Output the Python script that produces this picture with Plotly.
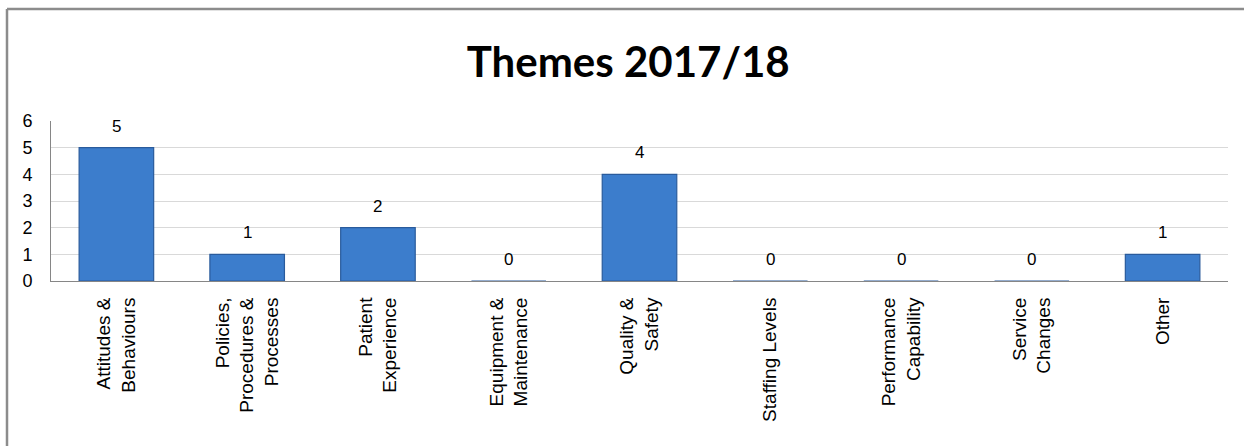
import plotly.graph_objects as go

categories = [
    "Attitudes &<br>Behaviours",
    "Policies,<br>Procedures &<br>Processes",
    "Patient<br>Experience",
    "Equipment &<br>Maintenance",
    "Quality &<br>Safety",
    "Staffing Levels",
    "Performance<br>Capability",
    "Service<br>Changes",
    "Other",
]
values = [5, 1, 2, 0, 4, 0, 0, 0, 1]
y_ticks = [0, 1, 2, 3, 4, 5, 6]

x_idx = list(range(len(categories)))

fig = go.Figure()
fig.add_trace(go.Bar(
    x=x_idx,
    y=values,
    width=0.57,
    marker=dict(color="#3c7dcc", line=dict(color="#2a5b9c", width=1.2)),
    showlegend=False,
    hoverinfo="skip",
))

for xi, v in zip(x_idx, values):
    fig.add_annotation(
        x=xi, y=v, xref="x", yref="y",
        text=str(v), showarrow=False,
        yanchor="bottom", yshift=10,
        font=dict(family="Liberation Sans, Arial", size=17, color="#000000"),
    )

fig.update_layout(
    width=1244,
    height=446,
    margin=dict(l=51, r=16, t=121, b=165),
    paper_bgcolor="white",
    plot_bgcolor="white",
    title=dict(
        text="<b>Themes 2017/18</b>",
        font=dict(family="Lato, Open Sans", size=42, color="#000000"),
        x=0.505, xref="container", xanchor="center",
        y=1 - 62 / 446, yref="container", yanchor="middle",
    ),
    xaxis=dict(
        range=[-0.5, len(categories) - 0.5],
        tickmode="array",
        tickvals=x_idx,
        ticktext=categories,
        tickangle=-90,
        tickfont=dict(family="Liberation Sans, Arial", size=19, color="#000000"),
        showline=True, linecolor="#868686", linewidth=1,
        showgrid=False, zeroline=False,
        ticks="", ticklabelstandoff=8,
    ),
    yaxis=dict(
        range=[0, 6],
        tickmode="array",
        tickvals=y_ticks,
        ticktext=[str(t) for t in y_ticks],
        tickfont=dict(family="Liberation Sans, Arial", size=18, color="#000000"),
        showline=True, linecolor="#868686", linewidth=1,
        showgrid=True, gridcolor="#d9d9d9", gridwidth=1,
        zeroline=False,
        ticks="", ticklabelstandoff=14,
    ),
    bargap=0.43,
    font=dict(family="Liberation Sans, Arial"),
)

# outer chart border: only the left and top edges are visible in the frame
bx0 = (7 - 51) / 1177
bx1 = (1244 - 51) / 1177
by_top = (281 - 9) / 160
by_bot = (281 - 446) / 160
fig.add_shape(type="line", xref="paper", yref="paper",
              x0=bx0, x1=bx0, y0=by_bot, y1=by_top,
              line=dict(color="#8c8c8c", width=2.5), layer="below")
fig.add_shape(type="line", xref="paper", yref="paper",
              x0=bx0, x1=bx1, y0=by_top, y1=by_top,
              line=dict(color="#8c8c8c", width=2.5), layer="below")

fig.write_html(
    "out.html",
    config={"displayModeBar": False},
    post_script="document.body.style.margin='0';"
                "document.body.style.overflow='hidden';"
                "document.documentElement.style.overflow='hidden';",
)
